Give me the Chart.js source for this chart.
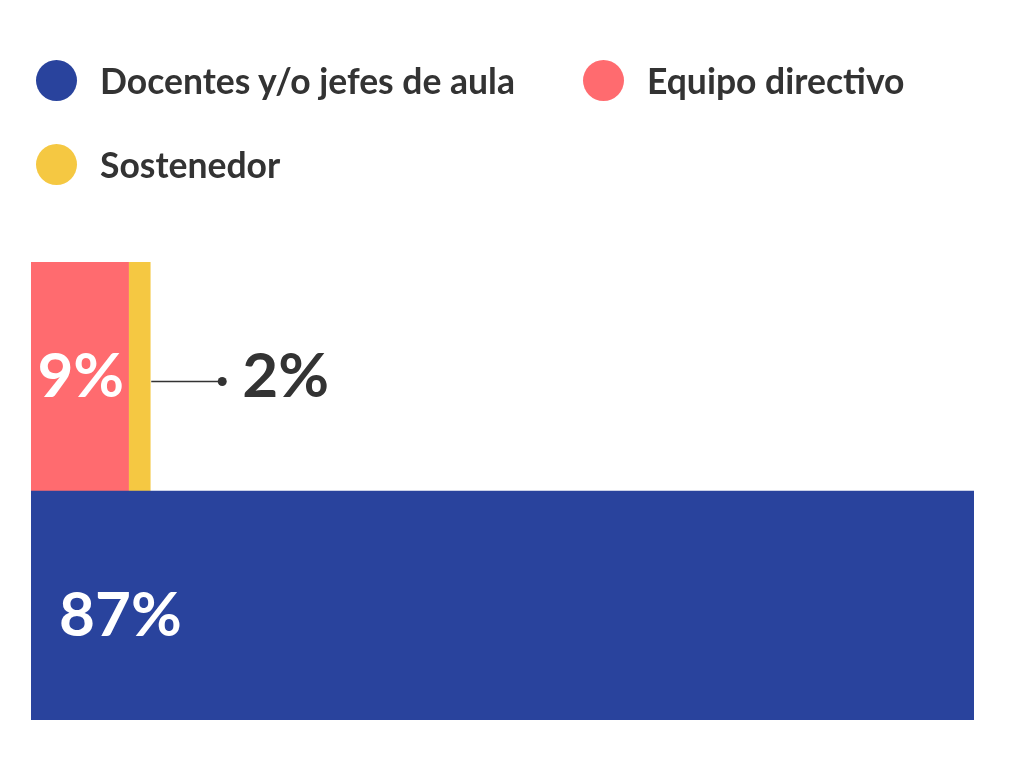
<!DOCTYPE html>
<html>
<head>
<meta charset="utf-8">
<script src="https://cdn.jsdelivr.net/npm/chart.js@4"></script>
<style>
  html, body { margin: 0; padding: 0; background: #fff; }
  #wrap { position: relative; width: 1024px; height: 770px; overflow: hidden; }
  #chart { position: absolute; left: 0; top: 0; }
  #legend { position: absolute; left: 36px; top: 59px; width: 960px; display: flex; flex-wrap: wrap; row-gap: 42px;
            font-family: Lato, "Noto Sans", sans-serif; font-weight: 700; font-size: 35.5px; color: #333; }
  .item { display: flex; align-items: center; height: 42px; margin-right: 68px; white-space: nowrap; }
  .dot { width: 41px; height: 41px; border-radius: 50%; margin-right: 23px; flex: none; }
</style>
</head>
<body>
<div id="wrap">
  <canvas id="chart" width="1024" height="770"></canvas>
  <div id="legend"></div>
</div>
<script>
// ---- data ----
const categories = ['Equipo directivo y sostenedor', 'Docentes y/o jefes de aula'];
const seriesNames = ['Docentes y/o jefes de aula', 'Equipo directivo', 'Sostenedor'];
const docentes = [null, 87];
const equipoDirectivo = [9, null];
const sostenedor = [2, null];
const colors = ['#29439D', '#FF6B6F', '#F5C842'];

const seriesValues = [docentes, equipoDirectivo, sostenedor];

// legend (HTML)
const legendEl = document.getElementById('legend');
seriesNames.forEach((name, i) => {
  const it = document.createElement('div');
  it.className = 'item';
  const d = document.createElement('span');
  d.className = 'dot';
  d.style.background = colors[i];
  const t = document.createElement('span');
  t.textContent = name;
  it.appendChild(d); it.appendChild(t);
  legendEl.appendChild(it);
});

const labelPlugin = {
  id: 'valueLabels',
  afterDatasetsDraw(chart) {
    const ctx = chart.ctx;
    ctx.save();
    ctx.font = '700 62px Lato, "Noto Sans", sans-serif';
    ctx.textBaseline = 'middle';
    chart.data.datasets.forEach((ds, di) => {
      const meta = chart.getDatasetMeta(di);
      meta.data.forEach((el, i) => {
        const v = ds.data[i];
        if (v == null) return;
        const txt = v + '%';
        const left = Math.min(el.base, el.x), right = Math.max(el.base, el.x);
        if (di === 0) {
          ctx.fillStyle = '#fff';
          ctx.textAlign = 'left';
          ctx.fillText(txt, left + 28, el.y + 10);
        } else if (di === 1) {
          ctx.fillStyle = '#fff';
          ctx.textAlign = 'center';
          ctx.fillText(txt, (left + right) / 2 + 1, el.y);
        } else {
          // leader line + dot + label outside
          const y = el.y + 5;
          const x0 = right + 1, x1 = right + 72;
          ctx.strokeStyle = '#333';
          ctx.lineWidth = 1.5;
          ctx.beginPath(); ctx.moveTo(x0, y); ctx.lineTo(x1, y); ctx.stroke();
          ctx.fillStyle = '#333';
          ctx.beginPath(); ctx.arc(x1, y, 4.5, 0, Math.PI * 2); ctx.fill();
          ctx.textAlign = 'left';
          ctx.fillText(txt, x1 + 20, el.y);
        }
      });
    });
    ctx.restore();
  }
};

new Chart(document.getElementById('chart'), {
  type: 'bar',
  data: {
    labels: categories,
    datasets: seriesNames.map((name, i) => ({
      label: name,
      data: seriesValues[i],
      backgroundColor: colors[i],
      borderWidth: 0,
      barPercentage: 1,
      categoryPercentage: 1
    }))
  },
  options: {
    indexAxis: 'y',
    responsive: false,
    animation: false,
    layout: { padding: { left: 31, right: 50, top: 262, bottom: 50 } },
    plugins: { legend: { display: false }, tooltip: { enabled: false } },
    scales: {
      x: { stacked: true, min: 0, max: 87, display: false },
      y: { stacked: true, display: false }
    }
  },
  plugins: [labelPlugin]
});
</script>
</body>
</html>
